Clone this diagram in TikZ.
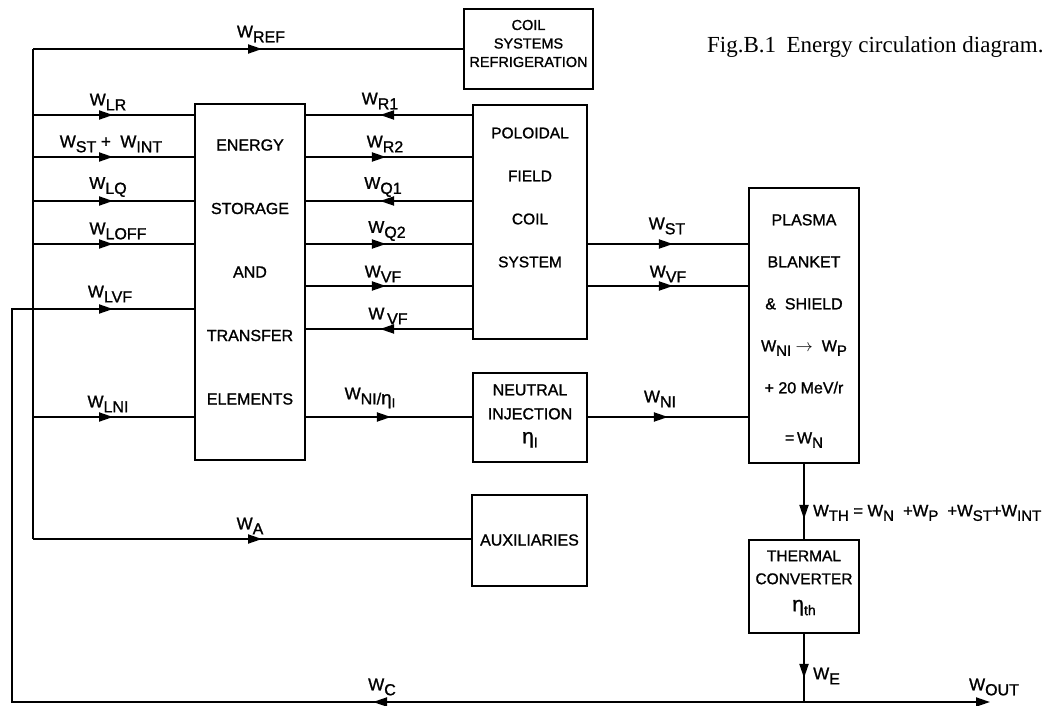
\documentclass[tikz,border=0pt]{standalone}
\usepackage{fontspec}
\setmainfont{Liberation Sans}[FakeBold=1.2]
\newfontfamily\capfont{Liberation Serif}
\usetikzlibrary{arrows.meta,decorations.markings}
\newcommand\Wsb[1]{W\raisebox{-5pt}{\fontsize{16}{16}\selectfont #1}}
\newcommand\Wsm[1]{W\raisebox{-4.5pt}{\fontsize{15}{15}\selectfont #1}}
\newcommand\etasub[1]{{\fontsize{21}{21}\selectfont η}\raisebox{-4pt}{\fontsize{14}{14}\selectfont #1}}
\tikzset{
  ln/.style={line width=1.9pt},
  box/.style={draw, line width=1.9pt, inner sep=0pt},
  boxtxt/.style={align=center, inner sep=0pt},
  lab/.style={font=\fontsize{17}{17}\selectfont, inner sep=0pt},
  tri/.tip={Triangle[length=14pt,width=9pt]},
  arr/.style={postaction={decorate, decoration={markings, mark=at position #1 with {\arrow{tri}}}}},
}
\begin{document}
\begin{tikzpicture}[x=1pt,y=-1pt]
\useasboundingbox (0,0) rectangle (1050,706);
% boxes
\node[box, minimum width=129pt, minimum height=80pt] (C) at (528.5,49) {};
\node[box, minimum width=110pt, minimum height=356pt] (E) at (250,282) {};
\node[box, minimum width=114pt, minimum height=234pt] (P) at (530,222) {};
\node[box, minimum width=114pt, minimum height=89pt] (N) at (530,417.5) {};
\node[box, minimum width=115pt, minimum height=91pt] (A) at (529.5,540.5) {};
\node[box, minimum width=110pt, minimum height=275pt] (PL) at (804,325.5) {};
\node[box, minimum width=110pt, minimum height=93pt] (T) at (804,586.5) {};
% box texts
\node[boxtxt, font=\fontsize{14.5}{18.5}\selectfont] (Ct) at (528.5,43.5) {COIL\\SYSTEMS\\REFRIGERATION};
\node[boxtxt, font=\fontsize{16}{63.5}\selectfont] (Et) at (250,272) {ENERGY\\STORAGE\\AND\\TRANSFER\\ELEMENTS};
\node[boxtxt, font=\fontsize{15.5}{43}\selectfont] (Pt) at (530,197.5) {POLOIDAL\\FIELD\\COIL\\SYSTEM};
\node[boxtxt, font=\fontsize{16}{24}\selectfont] (Nt) at (530,416) {NEUTRAL\\INJECTION\\\etasub{I}};
\node[boxtxt, font=\fontsize{16}{16}\selectfont] (At) at (529.5,540) {AUXILIARIES};
\node[boxtxt, font=\fontsize{16}{42}\selectfont] (PLt) at (804,331) {PLASMA\\BLANKET\\\&\ \ SHIELD\\\Wsm{NI} $\rightarrow$ \ \Wsm{P}\\+ 20 MeV/r\\[8pt]=\,\Wsm{N}};
\node[boxtxt, font=\fontsize{15.5}{23}\selectfont] (Tt) at (804,583) {THERMAL\\CONVERTER\\[4pt]\etasub{th}};
% caption
\node[anchor=west, inner sep=0pt, font=\capfont\fontsize{23}{23}\selectfont] (cap) at (707,47) {Fig.B.1\hspace{0.45em}Energy circulation diagram.};
% coordinates
\coordinate (btop) at (33,49);
\coordinate (bbot) at (33,539);
\coordinate (r1) at (0,115);
\coordinate (r2) at (0,157);
\coordinate (r3) at (0,201);
\coordinate (r4) at (0,244);
\coordinate (r5) at (0,286);
\coordinate (r6) at (0,329);
\coordinate (rv) at (0,309);
\coordinate (rn) at (0,417);
\coordinate (bl) at (12,702);
\coordinate (lvf) at (12,309);
\coordinate (J) at (T.south |- bl);
\coordinate (out) at (990,702);
% left bus
\draw[ln] (btop) -- (bbot);
\draw[ln, arr=229pt] (btop) -- (C.west |- btop);
\draw[ln, arr=80pt] (btop |- r1) -- (E.west |- r1);
\draw[ln, arr=80pt] (btop |- r2) -- (E.west |- r2);
\draw[ln, arr=80pt] (btop |- r3) -- (E.west |- r3);
\draw[ln, arr=80pt] (btop |- r4) -- (E.west |- r4);
\draw[ln, arr=80pt] (btop |- rn) -- (E.west |- rn);
\draw[ln, arr=229pt] (bbot) -- (A.west |- bbot);
% energy <-> poloidal
\draw[ln, arr=92pt] (P.west |- r1) -- (E.east |- r1);
\draw[ln, arr=80pt] (E.east |- r2) -- (P.west |- r2);
\draw[ln, arr=92pt] (P.west |- r3) -- (E.east |- r3);
\draw[ln, arr=80pt] (E.east |- r4) -- (P.west |- r4);
\draw[ln, arr=80pt] (E.east |- r5) -- (P.west |- r5);
\draw[ln, arr=92pt] (P.west |- r6) -- (E.east |- r6);
\draw[ln, arr=85pt] (E.east |- rn) -- (N.west |- rn);
% to plasma
\draw[ln, arr=85pt] (P.east |- r4) -- (PL.west |- r4);
\draw[ln, arr=85pt] (P.east |- r5) -- (PL.west |- r5);
\draw[ln, arr=80pt] (N.east |- rn) -- (PL.west |- rn);
% plasma -> thermal -> output
\draw[ln, arr=55pt] (PL.south) -- (T.north);
\draw[ln, arr=44pt] (T.south) -- (J);
\draw[ln, -{tri}] (J) -- (out);
\draw[ln, arr=431pt, arr=1286pt] (J) -- (bl) -- (lvf) -- (E.west |- rv);
% labels
\node[lab] (lREF) at (261,34) {\Wsb{REF}};
\node[lab] (lLR) at (108,102) {\Wsb{LR}};
\node[lab] (lST) at (111,144) {\Wsb{ST} +\ \ \Wsb{INT}};
\node[lab] (lLQ) at (108,187) {\Wsb{LQ}};
\node[lab] (lLOFF) at (118,231) {\Wsb{LOFF}};
\node[lab] (lLVF) at (110,294) {\Wsb{LVF}};
\node[lab] (lLNI) at (108,404) {\Wsb{LNI}};
\node[lab] (lR1) at (380,101) {\Wsb{R1}};
\node[lab] (lR2) at (385,144) {\Wsb{R2}};
\node[lab] (lQ1) at (383,187) {\Wsb{Q1}};
\node[lab] (lQ2) at (387,231) {\Wsb{Q2}};
\node[lab] (lVF1) at (383,274) {\Wsb{VF}};
\node[lab] (lVF2) at (388,316) {\Wsb{\,VF}};
\node[lab] (lNIe) at (370,398) {W\raisebox{-5pt}{\fontsize{16}{16}\selectfont NI/{\fontsize{19}{19}\selectfont η}\raisebox{-3pt}{\fontsize{13}{13}\selectfont I}}};
\node[lab] (lSTr) at (667,226) {\Wsb{ST}};
\node[lab] (lVFr) at (668,274) {\Wsb{VF}};
\node[lab] (lNIr) at (660,399) {\Wsb{NI}};
\node[lab] (lA) at (250,526) {\Wsb{A}};
\node[lab] (lC) at (382,687) {\Wsb{C}};
\node[lab, anchor=west, font=\fontsize{16.5}{16.5}\selectfont] (lTH) at (813,513) {\Wsm{TH} = \Wsm{N} \ +\Wsm{P} \ +\Wsm{ST}+\Wsm{INT}};
\node[lab, anchor=west] (lE) at (813,676) {\Wsb{E}};
\node[lab] (lOUT) at (994,687) {\Wsb{OUT}};
\end{tikzpicture}
\end{document}
